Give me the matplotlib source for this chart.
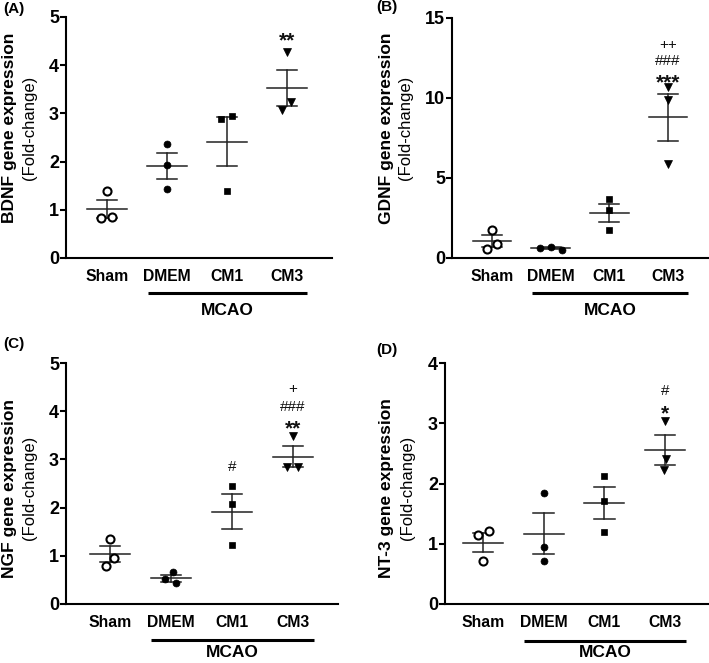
import numpy as np
import matplotlib.pyplot as plt

plt.rcParams["font.family"] = ["Liberation Sans", "DejaVu Sans"]

W, H = 709, 663

groups = ["Sham", "DMEM", "CM1", "CM3"]

# individual values per group
bdnf = [[1.40, 0.85, 0.83], [2.37, 1.92, 1.43], [2.95, 2.89, 1.40], [4.27, 3.23, 3.08]]
gdnf = [[1.77, 0.88, 0.56], [0.67, 0.65, 0.53], [3.71, 3.02, 1.77], [10.67, 9.85, 5.90]]
ngf = [[1.35, 0.95, 0.79], [0.67, 0.51, 0.43], [2.45, 2.07, 1.23], [3.49, 2.85, 2.84]]
nt3 = [[1.21, 1.14, 0.71], [1.84, 0.95, 0.71], [2.13, 1.71, 1.19], [3.04, 2.40, 2.22]]

# significance marks: (group index, y value, text)
bdnf_marks = [(3, 4.67, "**")]
gdnf_marks = [(3, 11.45, "***"), (3, 12.3, "###"), (3, 13.3, "++")]
ngf_marks = [(2, 2.85, "#"), (3, 3.80, "**"), (3, 4.08, "###"), (3, 4.47, "+")]
nt3_marks = [(3, 3.29, "*"), (3, 3.54, "#")]

# marker, face colour, size, edge width
markers = [("o", "white", 5.8, 1.5), ("o", "black", 5.0, 0.5),
           ("s", "black", 5.0, 0.5), ("v", "black", 5.2, 0.5)]


def swarm(vals, px_unit, px_cat, diam=11.0):
    """simple beeswarm offsets (in category units)"""
    vals = np.asarray(vals)
    order = np.argsort(vals)[::-1]
    placed = []
    offs = np.zeros(len(vals))
    for i in order:
        y = vals[i] * px_unit
        for k in range(60):
            x = (k + 1) // 2 * (1 if k % 2 else -1) * -1
            if all(np.hypot(x - px, y - py) >= diam for px, py in placed):
                break
        placed.append((x, y))
        offs[i] = x
    # recenter clusters of touching points
    ys = vals * px_unit
    srt = list(order)
    clusters = [[srt[0]]]
    for a, b in zip(srt[:-1], srt[1:]):
        if ys[a] - ys[b] < diam:
            clusters[-1].append(b)
        else:
            clusters.append([b])
    for c in clusters:
        if len(c) > 1:
            offs[c] -= offs[c].mean()
    return offs / px_cat


def panel(box, xlim, data, ymax, ystep, marks, ylab, lab_pos, letter, letter_pos,
          mcao_y, mcao_txt_y):
    l, t, r, b = box
    ax = fig.add_axes([l / W, 1 - b / H, (r - l) / W, (b - t) / H])
    ax.set_xlim(*xlim)
    ax.set_ylim(0, ymax)
    px_unit = (b - t) / ymax
    px_cat = (r - l) / (xlim[1] - xlim[0])
    lc = "#222222"
    for i, vals in enumerate(data):
        vals = np.array(vals)
        m = vals.mean()
        sem = vals.std(ddof=1) / np.sqrt(len(vals))
        ax.plot([i - 0.33, i + 0.33], [m, m], color=lc, lw=1.1, zorder=2)
        ax.plot([i, i], [m - sem, m + sem], color=lc, lw=1.1, zorder=2)
        for yy in (m - sem, m + sem):
            ax.plot([i - 0.17, i + 0.17], [yy, yy], color=lc, lw=1.1, zorder=2)
        mk, fc, ms, mew = markers[i]
        offs = swarm(vals, px_unit, px_cat)
        ax.plot(i + offs, vals, linestyle="none", marker=mk, ms=ms,
                mfc=fc, mec="black", mew=mew, zorder=3)
    for gi, yv, txt in marks:
        star = "*" in txt
        ax.text(gi, yv - (0.035 * ymax if star else 0), txt, ha="center", va="center",
                fontsize=15 if star else 11, fontweight="bold" if star else "normal",
                color="#111111")
    ax.spines["top"].set_visible(False)
    ax.spines["right"].set_visible(False)
    for s in ("left", "bottom"):
        ax.spines[s].set_linewidth(1.5)
    ticks = np.arange(0, ymax + 0.01, ystep)
    ax.set_yticks(ticks)
    ax.set_yticklabels([f"{v:g}" for v in ticks], fontweight="bold", fontsize=13)
    ax.tick_params(axis="y", length=4, width=1.5, pad=1)
    ax.set_xticks(range(len(groups)))
    ax.set_xticklabels(groups, fontweight="bold", fontsize=11.3)
    ax.tick_params(axis="x", length=0, pad=8)
    # MCAO underline
    ax.plot([0.68, 3.34], [mcao_y, mcao_y], color="black", lw=2.2,
            transform=ax.get_xaxis_transform(), clip_on=False, solid_capstyle="butt")
    ax.text((0.68 + 3.34) / 2, mcao_txt_y, "MCAO", ha="center", va="center",
            fontsize=12.5, fontweight="bold", transform=ax.get_xaxis_transform())
    # y label in two lines
    x1, x2, yc = lab_pos
    fig.text(x1 / W, 1 - yc / H, ylab, rotation=90, ha="center", va="center",
             fontsize=12.5, fontweight="bold")
    fig.text(x2 / W, 1 - yc / H, "(Fold-change)", rotation=90, ha="center", va="center",
             fontsize=12)
    fig.text(letter_pos[0] / W, 1 - letter_pos[1] / H, letter, ha="left", va="center",
             fontsize=11, fontweight="bold")
    return ax


fig = plt.figure(figsize=(W / 100, H / 100), dpi=100)

panel((66, 17, 332, 258), (-0.683, 3.75), bdnf, 5, 1, bdnf_marks,
      "BDNF gene expression", (10, 29, 128), "(A)", (3, 9), -0.145, -0.218)
panel((452, 18, 708, 258), (-0.68, 3.68), gdnf, 15, 5, gdnf_marks,
      "GDNF gene expression", (387, 405, 128), "(B)", (376, 7), -0.145, -0.218)
panel((66, 363, 338, 604), (-0.72, 3.74), ngf, 5, 1, ngf_marks,
      "NGF gene expression", (10, 29, 488), "(C)", (3, 344), -0.149, -0.203)
panel((445, 363, 708, 604), (-0.63, 3.71), nt3, 4, 1, nt3_marks,
      "NT-3 gene expression", (386, 407, 488), "(D)", (376, 350), -0.155, -0.203)

fig.savefig("out.png", dpi=100)
